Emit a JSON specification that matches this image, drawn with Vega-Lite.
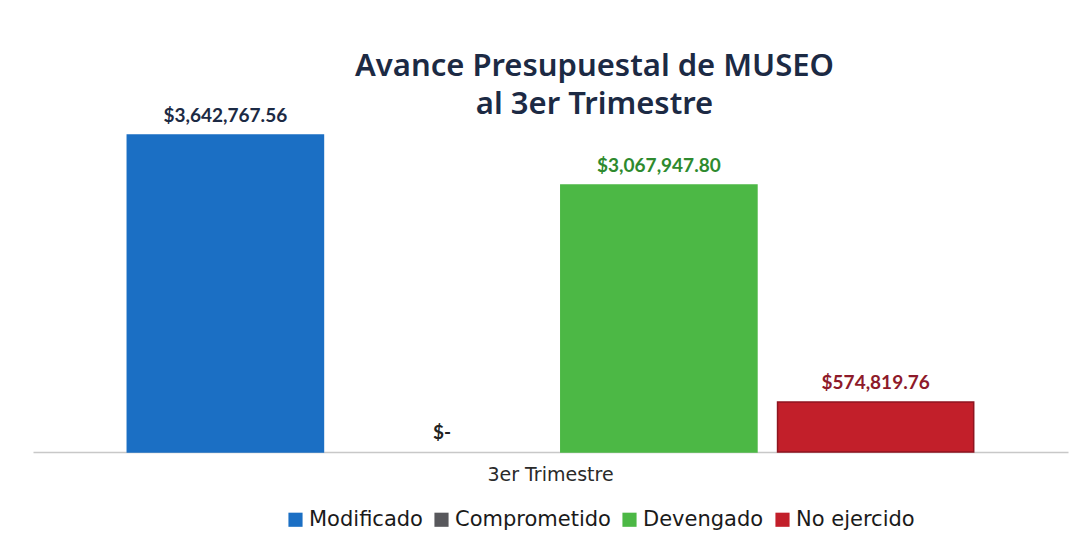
{
  "$schema": "https://vega.github.io/schema/vega-lite/v6.json",
  "width": 1035,
  "height": 332,
  "autosize": {"type": "none"},
  "padding": {"left": 33, "top": 120, "right": 14, "bottom": 88},
  "background": "white",
  "config": {"view": {"stroke": null}, "font": "Noto Sans"},
  "title": {
    "text": ["Avance Presupuestal de MUSEO", "al 3er Trimestre"],
    "fontSize": 31,
    "fontWeight": 600,
    "color": "#1c2a44",
    "font": "Noto Sans",
    "anchor": "middle",
    "dx": 44,
    "offset": -14,
    "lineHeight": 38
  },
  "data": {
    "values": [
      {"Periodo": "3er Trimestre", "Serie": "Modificado", "Monto": 3642767.56, "Etiqueta": "$3,642,767.56"},
      {"Periodo": "3er Trimestre", "Serie": "Comprometido", "Monto": 0, "Etiqueta": "$-"},
      {"Periodo": "3er Trimestre", "Serie": "Devengado", "Monto": 3067947.80, "Etiqueta": "$3,067,947.80"},
      {"Periodo": "3er Trimestre", "Serie": "No ejercido", "Monto": 574819.76, "Etiqueta": "$574,819.76"}
    ]
  },
  "encoding": {
    "x": {
      "field": "Periodo",
      "type": "nominal",
      "scale": {"paddingInner": 0, "paddingOuter": 0},
      "axis": {
        "title": null,
        "labelAngle": 0,
        "ticks": false,
        "domainColor": "#c8c8c8",
        "domainWidth": 1.5,
        "labelFontSize": 19,
        "labelFontWeight": 500,
        "labelColor": "#2a2a2a",
        "labelFont": "DejaVu Sans",
        "labelPadding": 13
      }
    },
    "xOffset": {
      "field": "Serie",
      "type": "nominal",
      "sort": ["Modificado", "Comprometido", "Devengado", "No ejercido"],
      "scale": {"paddingInner": 0.095, "paddingOuter": 0.435}
    },
    "y": {
      "field": "Monto",
      "type": "quantitative",
      "scale": {"domain": [0, 3815000], "nice": false},
      "axis": null
    }
  },
  "layer": [
    {
      "mark": {"type": "bar", "strokeWidth": 1.5},
      "encoding": {
        "color": {
          "field": "Serie",
          "type": "nominal",
          "sort": ["Modificado", "Comprometido", "Devengado", "No ejercido"],
          "scale": {
            "domain": ["Modificado", "Comprometido", "Devengado", "No ejercido"],
            "range": ["#1b6fc4", "#58585c", "#4cb845", "#c21f2a"]
          },
          "legend": {
            "title": null,
            "orient": "none",
            "legendX": 252,
            "legendY": 389,
            "direction": "horizontal",
            "columns": 4,
            "symbolType": "square",
            "symbolSize": 200,
            "symbolStrokeWidth": 0,
            "labelFontSize": 21,
            "labelFont": "DejaVu Sans",
            "labelColor": "#1a1a1a",
            "labelOffset": 3,
            "columnPadding": 8
          }
        },
        "stroke": {
          "field": "Serie",
          "type": "nominal",
          "scale": {
            "domain": ["Modificado", "Comprometido", "Devengado", "No ejercido"],
            "range": ["#1b6fc4", "transparent", "#4cb845", "#8e1520"]
          },
          "legend": null
        }
      }
    },
    {
      "mark": {"type": "text", "baseline": "bottom", "dy": -9, "fontSize": 19, "fontWeight": "bold", "font": "Lato"},
      "encoding": {
        "text": {"field": "Etiqueta"},
        "color": {
          "field": "Serie",
          "type": "nominal",
          "scale": {
            "domain": ["Modificado", "Comprometido", "Devengado", "No ejercido"],
            "range": ["#1c2a44", "#222222", "#2e8a2e", "#8e1a2a"]
          },
          "legend": null
        }
      }
    }
  ],
  "resolve": {"scale": {"color": "independent", "stroke": "independent"}, "legend": {"color": "independent"}}
}
